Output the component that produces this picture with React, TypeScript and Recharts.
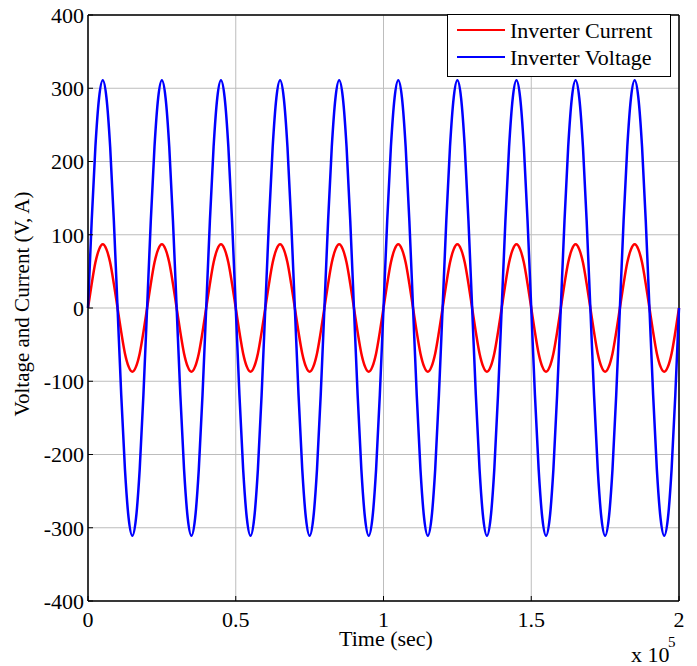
import React from "react";
import {
  LineChart,
  Line,
  XAxis,
  YAxis,
  CartesianGrid,
  ReferenceLine,
  Legend,
} from "recharts";

// time samples (s), 1250 apart, 0 .. 2e5
const time = [
  0, 1250, 2500, 3750, 5000, 6250, 7500, 8750, 10000, 11250, 12500, 13750, 15000, 16250, 17500, 18750,
  20000, 21250, 22500, 23750, 25000, 26250, 27500, 28750, 30000, 31250, 32500, 33750, 35000, 36250, 37500, 38750,
  40000, 41250, 42500, 43750, 45000, 46250, 47500, 48750, 50000, 51250, 52500, 53750, 55000, 56250, 57500, 58750,
  60000, 61250, 62500, 63750, 65000, 66250, 67500, 68750, 70000, 71250, 72500, 73750, 75000, 76250, 77500, 78750,
  80000, 81250, 82500, 83750, 85000, 86250, 87500, 88750, 90000, 91250, 92500, 93750, 95000, 96250, 97500, 98750,
  100000, 101250, 102500, 103750, 105000, 106250, 107500, 108750, 110000, 111250, 112500, 113750, 115000, 116250, 117500, 118750,
  120000, 121250, 122500, 123750, 125000, 126250, 127500, 128750, 130000, 131250, 132500, 133750, 135000, 136250, 137500, 138750,
  140000, 141250, 142500, 143750, 145000, 146250, 147500, 148750, 150000, 151250, 152500, 153750, 155000, 156250, 157500, 158750,
  160000, 161250, 162500, 163750, 165000, 166250, 167500, 168750, 170000, 171250, 172500, 173750, 175000, 176250, 177500, 178750,
  180000, 181250, 182500, 183750, 185000, 186250, 187500, 188750, 190000, 191250, 192500, 193750, 195000, 196250, 197500, 198750,
  200000,
];

const current = [
  0, 33, 62, 80, 87, 80, 62, 33, 0, -33, -62, -80, -87, -80, -62, -33,
  0, 33, 62, 80, 87, 80, 62, 33, 0, -33, -62, -80, -87, -80, -62, -33,
  0, 33, 62, 80, 87, 80, 62, 33, 0, -33, -62, -80, -87, -80, -62, -33,
  0, 33, 62, 80, 87, 80, 62, 33, 0, -33, -62, -80, -87, -80, -62, -33,
  0, 33, 62, 80, 87, 80, 62, 33, 0, -33, -62, -80, -87, -80, -62, -33,
  0, 33, 62, 80, 87, 80, 62, 33, 0, -33, -62, -80, -87, -80, -62, -33,
  0, 33, 62, 80, 87, 80, 62, 33, 0, -33, -62, -80, -87, -80, -62, -33,
  0, 33, 62, 80, 87, 80, 62, 33, 0, -33, -62, -80, -87, -80, -62, -33,
  0, 33, 62, 80, 87, 80, 62, 33, 0, -33, -62, -80, -87, -80, -62, -33,
  0, 33, 62, 80, 87, 80, 62, 33, 0, -33, -62, -80, -87, -80, -62, -33,
  0,
];

const voltage = [
  0, 119, 220, 287, 311, 287, 220, 119, 0, -119, -220, -287, -311, -287, -220, -119,
  0, 119, 220, 287, 311, 287, 220, 119, 0, -119, -220, -287, -311, -287, -220, -119,
  0, 119, 220, 287, 311, 287, 220, 119, 0, -119, -220, -287, -311, -287, -220, -119,
  0, 119, 220, 287, 311, 287, 220, 119, 0, -119, -220, -287, -311, -287, -220, -119,
  0, 119, 220, 287, 311, 287, 220, 119, 0, -119, -220, -287, -311, -287, -220, -119,
  0, 119, 220, 287, 311, 287, 220, 119, 0, -119, -220, -287, -311, -287, -220, -119,
  0, 119, 220, 287, 311, 287, 220, 119, 0, -119, -220, -287, -311, -287, -220, -119,
  0, 119, 220, 287, 311, 287, 220, 119, 0, -119, -220, -287, -311, -287, -220, -119,
  0, 119, 220, 287, 311, 287, 220, 119, 0, -119, -220, -287, -311, -287, -220, -119,
  0, 119, 220, 287, 311, 287, 220, 119, 0, -119, -220, -287, -311, -287, -220, -119,
  0,
];

const xTicks = [0, 50000, 100000, 150000, 200000];
const yTicks = [-400, -300, -200, -100, 0, 100, 200, 300, 400];

const data = time.map((t, i) => ({
  t,
  current: current[i],
  voltage: voltage[i],
}));

const FONT = "Liberation Serif";

function LegendBox({ payload }: any) {
  const items = payload || [];
  return (
    <svg width={224} height={63} style={{ display: "block" }}>
      <rect x={0.5} y={0.5} width={223} height={62} fill="#fff" stroke="#000" />
      {items.map((p: any, i: number) => {
        const ly = 16 + i * 27;
        return (
          <g key={p.value}>
            <line x1={10} x2={58} y1={ly} y2={ly} stroke={p.color} strokeWidth={2} />
            <text x={63} y={ly + 7.5} fontSize={22} fontFamily={FONT} fill="#000">
              {p.value}
            </text>
          </g>
        );
      })}
    </svg>
  );
}

export default function App() {
  return (
    <div
      style={{
        position: "absolute",
        left: 0,
        top: 0,
        width: 697,
        height: 666,
        background: "#fff",
      }}
    >
      <LineChart
        width={697}
        height={666}
        data={data}
        margin={{ top: 15, right: 18, bottom: 0, left: 0 }}
      >
        <CartesianGrid stroke="#bdbdbd" strokeWidth={1} />
        <XAxis
          dataKey="t"
          type="number"
          domain={[0, 200000]}
          ticks={xTicks}
          interval={0}
          height={65}
          tickFormatter={(v: number) => String(v / 100000)}
          tick={{ fill: "#000", fontSize: 22, fontFamily: FONT }}
          tickSize={-5}
          tickMargin={15}
          tickLine={{ stroke: "#000" }}
          axisLine={{ stroke: "#000", strokeWidth: 1.5 }}
          label={{
            content: () => (
              <g fontFamily={FONT} fill="#000">
                <text x={386} y={646} textAnchor="middle" fontSize={22}>
                  Time (sec)
                </text>
                <text x={631} y={662} fontSize={22}>
                  x 10
                </text>
                <text x={668} y={647} fontSize={15}>
                  5
                </text>
              </g>
            ),
          }}
        />
        <YAxis
          type="number"
          domain={[-400, 400]}
          ticks={yTicks}
          interval={0}
          width={88}
          tick={{ fill: "#000", fontSize: 22, fontFamily: FONT }}
          tickSize={-5}
          tickMargin={9}
          tickLine={{ stroke: "#000" }}
          axisLine={{ stroke: "#000", strokeWidth: 1.5 }}
          label={{
            content: () => (
              <text
                x={29}
                y={304}
                transform="rotate(-90 29 304)"
                textAnchor="middle"
                fontSize={21}
                fontFamily={FONT}
                fill="#000"
              >
                Voltage and Current (V, A)
              </text>
            ),
          }}
        />
        <ReferenceLine y={400} stroke="#000" strokeWidth={1.5} />
        <ReferenceLine x={200000} stroke="#000" strokeWidth={1.5} />
        <Line
          type="monotone"
          dataKey="current"
          name="Inverter Current"
          stroke="#ff0000"
          strokeWidth={2.5}
          dot={false}
          isAnimationActive={false}
        />
        <Line
          type="monotone"
          dataKey="voltage"
          name="Inverter Voltage"
          stroke="#0000ff"
          strokeWidth={2.5}
          dot={false}
          isAnimationActive={false}
        />
        <Legend
          layout="horizontal"
          verticalAlign="middle"
          align="center"
          wrapperStyle={{ top: 14, left: 447, width: 224, height: 63 }}
          content={<LegendBox />}
        />
      </LineChart>
    </div>
  );
}
